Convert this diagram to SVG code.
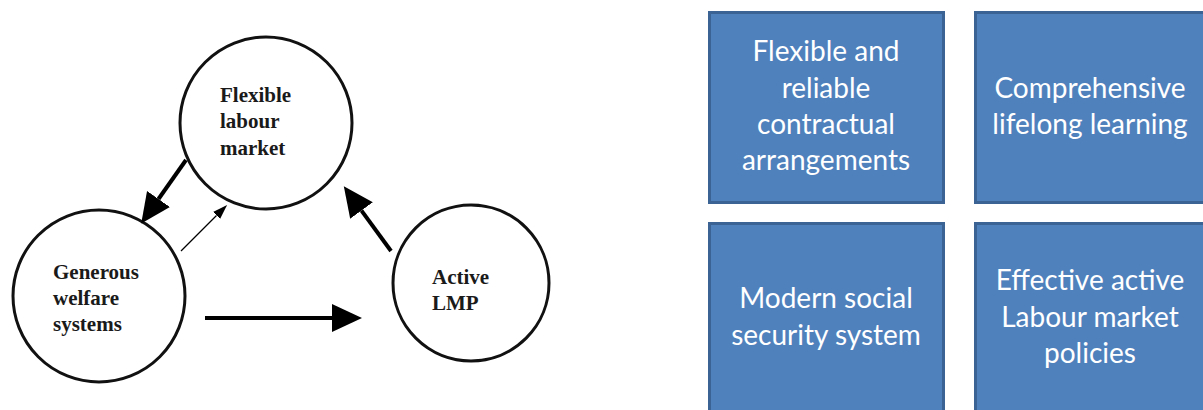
<svg xmlns="http://www.w3.org/2000/svg" width="1203" height="410" viewBox="0 0 1203 410">
  <style>
    .circle { fill: #ffffff; stroke: #111111; stroke-width: 3; }
    .clabel { font-family: "Liberation Serif", "Times New Roman", serif; font-weight: bold; font-size: 21px; fill: #1a1a1a; }
    .link-thick { stroke: #000000; stroke-width: 4; fill: none; }
    .link-thin { stroke: #000000; stroke-width: 1.3; fill: none; }
    .box { fill: #4f81bd; stroke: #3b6494; stroke-width: 3; }
    .blabel { font-family: Lato, "Open Sans", "Liberation Sans", sans-serif; font-size: 28px; fill: #ffffff; text-anchor: middle; }
  </style>
  <defs>
    <marker id="head-big" markerUnits="userSpaceOnUse" markerWidth="32" markerHeight="30" refX="0" refY="14" orient="auto">
      <path d="M0,0 L30,14 L0,28 Z" fill="#000000"/>
    </marker>
    <marker id="head-small" markerUnits="userSpaceOnUse" markerWidth="17" markerHeight="12" refX="0" refY="5" orient="auto">
      <path d="M0,0 L15,5 L0,10 Z" fill="#000000"/>
    </marker>
  </defs>

  <rect x="0" y="0" width="1203" height="410" fill="#ffffff"/>

  <!-- triangle of policy pillars -->
  <g id="node-flexible">
    <circle class="circle" cx="266" cy="123" r="86"/>
    <text class="clabel" x="220" y="102">Flexible</text>
    <text class="clabel" x="220" y="128">labour</text>
    <text class="clabel" x="220" y="155">market</text>
  </g>
  <g id="node-welfare">
    <circle class="circle" cx="99" cy="296" r="86"/>
    <text class="clabel" x="53" y="279">Generous</text>
    <text class="clabel" x="53" y="305">welfare</text>
    <text class="clabel" x="53" y="331">systems</text>
  </g>
  <g id="node-active">
    <circle class="circle" cx="471" cy="283" r="78"/>
    <text class="clabel" x="432" y="284">Active</text>
    <text class="clabel" x="432" y="310">LMP</text>
  </g>

  <g id="connectors">
    <line class="link-thick" x1="186" y1="160" x2="158.5" y2="199" marker-end="url(#head-big)"/>
    <line class="link-thin" x1="181" y1="251" x2="216.5" y2="215.5" marker-end="url(#head-small)"/>
    <line class="link-thick" x1="391" y1="251" x2="361.5" y2="210.6" marker-end="url(#head-big)"/>
    <line class="link-thick" x1="205" y1="318" x2="332" y2="318" marker-end="url(#head-big)"/>
  </g>

  <!-- four components grid -->
  <g id="box-contracts">
    <rect class="box" x="709.5" y="12.5" width="234" height="190"/>
    <text class="blabel" x="826" y="61">Flexible and</text>
    <text class="blabel" x="826" y="98">reliable</text>
    <text class="blabel" x="826" y="134">contractual</text>
    <text class="blabel" x="826" y="170">arrangements</text>
  </g>
  <g id="box-learning">
    <rect class="box" x="975.5" y="12.5" width="232" height="190"/>
    <text class="blabel" x="1090" y="98">Comprehensive</text>
    <text class="blabel" x="1090" y="134">lifelong learning</text>
  </g>
  <g id="box-security">
    <rect class="box" x="709.5" y="223.5" width="234" height="200"/>
    <text class="blabel" x="826" y="308">Modern social</text>
    <text class="blabel" x="826" y="345">security system</text>
  </g>
  <g id="box-almp">
    <rect class="box" x="975.5" y="223.5" width="232" height="200"/>
    <text class="blabel" x="1090" y="290">Effective active</text>
    <text class="blabel" x="1090" y="327">Labour market</text>
    <text class="blabel" x="1090" y="363">policies</text>
  </g>
</svg>
